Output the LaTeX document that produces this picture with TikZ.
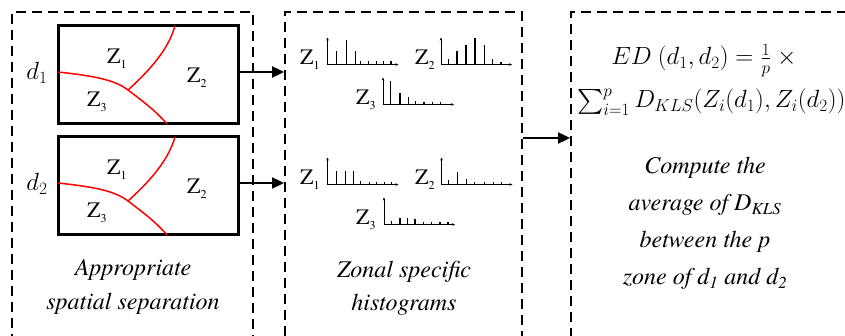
\documentclass[tikz,border=0pt]{standalone}
\usepackage{amsmath}
\usepackage{fontspec}
\setmainfont{texgyretermes}[Extension=.otf, UprightFont=*-regular, ItalicFont=*-italic, BoldFont=*-bold, BoldItalicFont=*-bolditalic]
\usetikzlibrary{arrows.meta}
\newcommand\zsub[1]{Z\raisebox{-5pt}{\fontsize{12}{12}\selectfont #1}}
\newcommand\histo[2]{%
  \begin{scope}[shift={#1}]
    \draw[histax] (0,-27) -- (0,0) -- (71,0);
    \foreach \bx/\bh in {#2} \draw[histbar] (\bx,0) -- (\bx,-\bh);
  \end{scope}}
\newcommand\zones{%
  \draw[zoneline] (58,72) .. controls (95,76) and (115,80) .. (128,90)
                  .. controls (141,100) and (155,110) .. (167,124);
  \draw[zoneline] (128,90) .. controls (150,70) and (168,50) .. (175,26);}
\tikzset{
  colbox/.style={draw, line width=1.8pt, dash pattern=on 10pt off 6pt,
                 minimum width=#1, minimum height=380pt, inner sep=0pt},
  zonebox/.style={draw, line width=3pt, minimum width=180pt, minimum height=98pt, inner sep=0pt},
  zoneline/.style={red, line width=1.5pt},
  arr/.style={line width=1.8pt, -{Triangle[length=12pt,width=11pt]}},
  histax/.style={line width=0.9pt, {Stealth[length=3pt,width=2.6pt]}-{Stealth[length=3pt,width=2.6pt]}},
  histbar/.style={line width=1.1pt},
  zlab/.style={font=\fontsize{22}{22}\selectfont, inner sep=0pt, anchor=base west},
  captext/.style={font=\fontsize{24}{24}\selectfont\itshape, inner sep=0pt, anchor=base},
  mathlab/.style={font=\fontsize{24}{24}\selectfont, inner sep=0pt},
}
\begin{document}
\begin{tikzpicture}[x=1pt,y=-1pt]
\useasboundingbox (0,0) rectangle (845,336);
\clip (0,0) rectangle (845,336);
% dashed columns
\node[colbox=241pt] (colA) at (132.5,202) {};
\node[colbox=237pt] (colB) at (403.5,202) {};
\node[colbox=300pt] (colC) at (721,202) {};
% document boxes
\node[zonebox] (box1) at (148.5,75) {};
\node[zonebox] (box2) at (148.5,186) {};
\zones
\begin{scope}[shift={(0,111)}]\zones\end{scope}
\node[zlab] (z11) at (107,64) {\zsub{1}};
\node[zlab] (z12) at (187,83) {\zsub{2}};
\node[zlab] (z13) at (87,107) {\zsub{3}};
\node[zlab] (z21) at (107,175) {\zsub{1}};
\node[zlab] (z22) at (187,194) {\zsub{2}};
\node[zlab] (z23) at (87,218) {\zsub{3}};
\node[mathlab, anchor=base] (d1) at (37,80) {$d_1$};
\node[mathlab, anchor=base] (d2) at (37,191) {$d_2$};
% arrows
\coordinate (a1) at (0,72);
\coordinate (a2) at (0,183);
\coordinate (a3) at (0,138);
\draw[arr] (box1.east |- a1) -- (colB.west |- a1);
\draw[arr] (box2.east |- a2) -- (colB.west |- a2);
\draw[arr] (colB.east |- a3) -- (colC.west |- a3);
% histograms
\node[zlab] (h11) at (300,65) {\zsub{1}};
\node[zlab] (h12) at (415,65) {\zsub{2}};
\node[zlab] (h13) at (356,105) {\zsub{3}};
\node[zlab] (h21) at (300,185) {\zsub{1}};
\node[zlab] (h22) at (415,185) {\zsub{2}};
\node[zlab] (h23) at (356,225) {\zsub{3}};
\histo{(327.5,64.5)}{9.3/13.7,18.7/24.3,27.7/13.7,33.3/3,41/3,48.7/3,56/3,63.5/3}
\histo{(441,64.5)}{7.3/5,16/13.7,25/19,34/26,43.3/19.3,51.7/5,60/2.5}
\histo{(383,104.5)}{7.7/23.3,17/11.3,25.3/7.3,32.7/3.5,41/2.5,49.3/2.5,57.7/2.5}
\histo{(327.5,184.5)}{8.7/13.7,17.7/13.7,26/13.7,33.3/3.7,42/2.5,49.3/2.5,56.7/2.5,64.3/2.5}
\histo{(441.5,184.5)}{6.7/4.3,16/12.7,25/5,33.3/2.5,43.3/2.5,51.7/2.5,60/2.5}
\histo{(384,224.5)}{7.7/3.3,16/6.7,23.3/6.7,31/5,39.3/2.7,47.7/2.3,56/2,64/2}
% formula
\node[mathlab, anchor=base] (f1) at (704,65) {$ED\ (d_1,d_2) = \frac{1}{p}\ \times$};
\node[mathlab, anchor=base west] (f2) at (577,108) {$\sum_{i=1}^{p} D_{KLS}(Z_i(d_1),Z_i(d_2))$};
% captions
\node[captext] (ca1) at (133,276) {Appropriate};
\node[captext] (ca2) at (133,309) {spatial separation};
\node[captext] (cb1) at (404,278) {Zonal specific};
\node[captext] (cb2) at (404,310) {histograms};
\node[captext] (cc1) at (705,174) {Compute the};
\node[captext] (cc2) at (705,211) {average of D\textsubscript{KLS}};
\node[captext] (cc3) at (705,248) {between the p};
\node[captext] (cc4) at (705,285) {zone of d\textsubscript{1} and d\textsubscript{2}};
\end{tikzpicture}
\end{document}
